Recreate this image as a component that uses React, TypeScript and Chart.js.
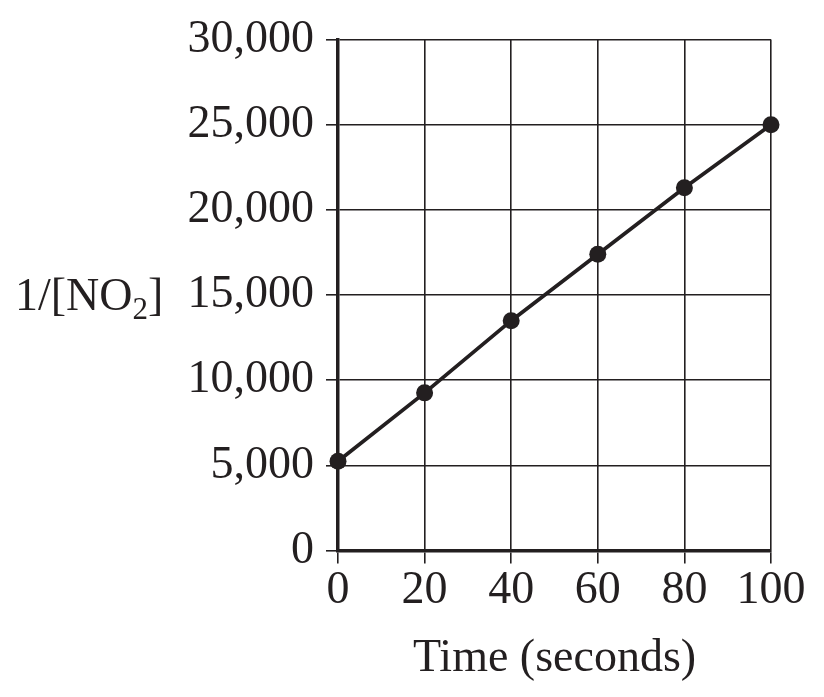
import { useEffect, useRef } from "react";
import { Chart, registerables } from "chart.js";

Chart.register(...registerables);

// time in seconds, and 1/[NO2]
const times = [0, 20, 40, 60, 80, 100];
const inverseNO2 = [5250, 9260, 13500, 17400, 21300, 25000];

const xTicks = [0, 20, 40, 60, 80, 100];
const yTicks = [0, 5000, 10000, 15000, 20000, 25000, 30000];

const xTitle = "Time (seconds)";
const yTitleMain = "1/[NO";
const yTitleSub = "2";
const yTitleEnd = "]";

const INK = "#231f20";
const FONT = "Liberation Serif";

const titles = {
  id: "titles",
  afterDraw(chart: Chart) {
    const { ctx, chartArea } = chart;
    const y = chart.scales.y;
    ctx.save();
    ctx.fillStyle = INK;
    ctx.textBaseline = "alphabetic";

    // x title, centred under the plot
    ctx.font = `46px "${FONT}"`;
    ctx.textAlign = "center";
    ctx.fillText(xTitle, (chartArea.left + chartArea.right) / 2, chartArea.bottom + 120);

    // y title, horizontal, with a real subscript
    const base = y.getPixelForValue(15000) + 15;
    let x = 15;
    ctx.textAlign = "left";
    ctx.font = `46px "${FONT}"`;
    ctx.fillText(yTitleMain, x, base);
    x += ctx.measureText(yTitleMain).width;
    ctx.font = `31px "${FONT}"`;
    ctx.fillText(yTitleSub, x, base + 9);
    x += ctx.measureText(yTitleSub).width;
    ctx.font = `46px "${FONT}"`;
    ctx.fillText(yTitleEnd, x, base);
    ctx.restore();
  },
};

export default function App() {
  const canvasRef = useRef<HTMLCanvasElement>(null);

  useEffect(() => {
    if (!canvasRef.current) return;
    const ctx = canvasRef.current.getContext("2d");
    if (!ctx) return;

    const chart = new Chart(ctx, {
      type: "line",
      data: {
        datasets: [
          {
            data: times.map((t, i) => ({ x: t, y: inverseNO2[i] })),
            borderColor: INK,
            backgroundColor: INK,
            borderWidth: 3.8,
            pointRadius: 8.5,
            pointBorderWidth: 0,
            pointBackgroundColor: INK,
            tension: 0,
            clip: false,
          },
        ],
      },
      options: {
        responsive: true,
        maintainAspectRatio: false,
        animation: false,
        layout: { padding: { left: 0, right: 53, top: 36, bottom: 0 } },
        plugins: {
          legend: { display: false },
          tooltip: { enabled: false },
        },
        scales: {
          x: {
            type: "linear",
            min: 0,
            max: 100,
            afterBuildTicks: (scale) => {
              scale.ticks = xTicks.map((v) => ({ value: v }));
            },
            afterFit: (scale) => {
              scale.height = 146.4;
            },
            grid: {
              color: INK,
              lineWidth: 1.6,
              drawTicks: true,
              tickLength: 13,
              tickColor: INK,
              tickWidth: 1.6,
            },
            border: { color: INK, width: 3.5 },
            ticks: {
              color: INK,
              font: { family: FONT, size: 46 },
              padding: 0,
              maxRotation: 0,
            },
          },
          y: {
            type: "linear",
            min: 0,
            max: 30000,
            afterBuildTicks: (scale) => {
              scale.ticks = yTicks.map((v) => ({ value: v }));
            },
            afterFit: (scale) => {
              scale.width = 338;
            },
            grid: {
              color: INK,
              lineWidth: 1.6,
              drawTicks: true,
              tickLength: 12,
              tickColor: INK,
              tickWidth: 1.6,
            },
            border: { color: INK, width: 3.5 },
            ticks: {
              color: INK,
              font: { family: FONT, size: 46 },
              padding: 12,
              callback: (v) => Number(v).toLocaleString("en-US"),
            },
          },
        },
      },
      plugins: [titles],
    });

    return () => {
      chart.destroy();
    };
  }, []);

  return (
    <div style={{ position: "absolute", left: 0, top: 0, width: 824, height: 697 }}>
      <canvas ref={canvasRef} />
    </div>
  );
}
